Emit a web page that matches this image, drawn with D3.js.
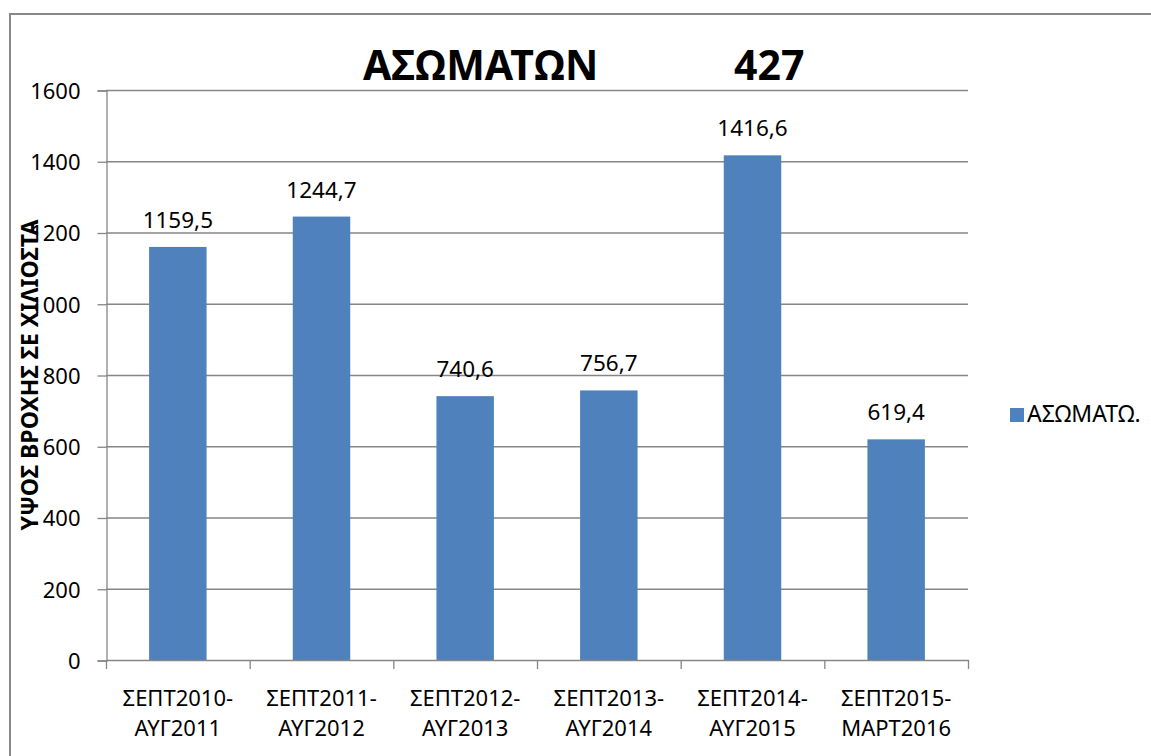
<!DOCTYPE html>
<html>
<head>
<meta charset="utf-8">
<script src="https://cdn.jsdelivr.net/npm/d3@7"></script>
<style>
  html, body { margin: 0; padding: 0; background: #fff; }
  svg { display: block; }
  text { font-family: "Noto Sans", "Open Sans", sans-serif; fill: #000; }
</style>
</head>
<body>
<svg id="chart" width="1151" height="756"></svg>
<script>
const categories = [
  ["ΣΕΠΤ2010-", "ΑΥΓ2011"],
  ["ΣΕΠΤ2011-", "ΑΥΓ2012"],
  ["ΣΕΠΤ2012-", "ΑΥΓ2013"],
  ["ΣΕΠΤ2013-", "ΑΥΓ2014"],
  ["ΣΕΠΤ2014-", "ΑΥΓ2015"],
  ["ΣΕΠΤ2015-", "ΜΑΡΤ2016"]
];
const values = [1159.5, 1244.7, 740.6, 756.7, 1416.6, 619.4];
const valueLabels = ["1159,5", "1244,7", "740,6", "756,7", "1416,6", "619,4"];
const yTicks = [0, 200, 400, 600, 800, 1000, 1200, 1400, 1600];
const titleParts = ["ΑΣΩΜΑΤΩΝ", "427"];
const yTitle = "ΥΨΟΣ ΒΡΟΧΗΣ ΣΕ ΧΙΛΙΟΣΤΑ";
const seriesName = "ΑΣΩΜΑΤΩ.";

const svg = d3.select("#chart");
const barColor = "#4F81BD";
const gridColor = "#868686";

// outer border
svg.append("rect")
  .attr("x", 10).attr("y", 14)
  .attr("width", 1151).attr("height", 760)
  .attr("fill", "none").attr("stroke", "#888").attr("stroke-width", 2);

const plot = { left: 106, right: 968, top: 90, bottom: 660 };

const x = d3.scaleBand()
  .domain(d3.range(categories.length))
  .range([plot.left, plot.right])
  .paddingInner(0.6).paddingOuter(0.3);
const xTick = d3.scaleLinear().domain([0, categories.length]).range([plot.left, plot.right]);
const y = d3.scaleLinear().domain([0, 1600]).range([plot.bottom, plot.top]);

// gridlines
svg.append("g").selectAll("line").data(yTicks.filter(d => d > 0)).join("line")
  .attr("x1", plot.left).attr("x2", plot.right)
  .attr("y1", d => y(d) + 0.5).attr("y2", d => y(d) + 0.5)
  .attr("stroke", gridColor).attr("stroke-width", 1.3);

// y axis
const yAxis = d3.axisLeft(y).tickValues(yTicks).tickSize(9).tickPadding(17).tickFormat(d3.format("d"));
const gy = svg.append("g").attr("transform", `translate(${plot.left + 0.5},0.5)`).call(yAxis);
gy.select(".domain").attr("stroke", gridColor).attr("stroke-width", 1.3);
gy.selectAll(".tick line").attr("stroke", gridColor).attr("stroke-width", 1.3);
gy.selectAll(".tick text").attr("font-size", 22).attr("fill", "#000")
  .attr("font-family", "Noto Sans, sans-serif").attr("dy", "0.36em");

// bars
svg.append("g").selectAll("rect").data(values).join("rect")
  .attr("x", (d, i) => x(i))
  .attr("y", d => y(d))
  .attr("width", x.bandwidth())
  .attr("height", d => y(0) - y(d))
  .attr("fill", barColor);

// x axis line and ticks
svg.append("line")
  .attr("x1", plot.left).attr("x2", plot.right + 1)
  .attr("y1", plot.bottom + 0.5).attr("y2", plot.bottom + 0.5)
  .attr("stroke", gridColor).attr("stroke-width", 1.3);
svg.append("g").selectAll("line").data(d3.range(categories.length + 1)).join("line")
  .attr("x1", d => xTick(d) + 0.5).attr("x2", d => xTick(d) + 0.5)
  .attr("y1", plot.bottom).attr("y2", plot.bottom + 9)
  .attr("stroke", gridColor).attr("stroke-width", 1.3);

// category labels
const cl = svg.append("g").selectAll("text").data(categories).join("text")
  .attr("text-anchor", "middle")
  .attr("font-size", 22);
cl.each(function(d, i) {
  const t = d3.select(this);
  const cx = x(i) + x.bandwidth() / 2;
  d.forEach((line, j) => {
    t.append("tspan").attr("x", cx).attr("y", 706 + j * 30).text(line);
  });
});

// value labels
svg.append("g").selectAll("text").data(values).join("text")
  .attr("x", (d, i) => x(i) + x.bandwidth() / 2)
  .attr("y", d => y(d) - 19)
  .attr("text-anchor", "middle")
  .attr("font-size", 22.5)
  .text((d, i) => valueLabels[i]);

// title
svg.append("text").attr("x", 363).attr("y", 80)
  .attr("font-size", 41).attr("font-weight", "bold").text(titleParts[0]);
svg.append("text").attr("x", 734).attr("y", 80)
  .attr("font-size", 41).attr("font-weight", "bold").text(titleParts[1]);

// y axis title
svg.append("text")
  .attr("transform", "translate(38,375) rotate(-90)")
  .attr("text-anchor", "middle")
  .attr("font-size", 23).attr("font-weight", "bold")
  .text(yTitle);

// legend
svg.append("rect").attr("x", 1010).attr("y", 408).attr("width", 14).attr("height", 14).attr("fill", barColor);
svg.append("text").attr("x", 1027).attr("y", 422).attr("font-size", 23).text(seriesName);
</script>
</body>
</html>
